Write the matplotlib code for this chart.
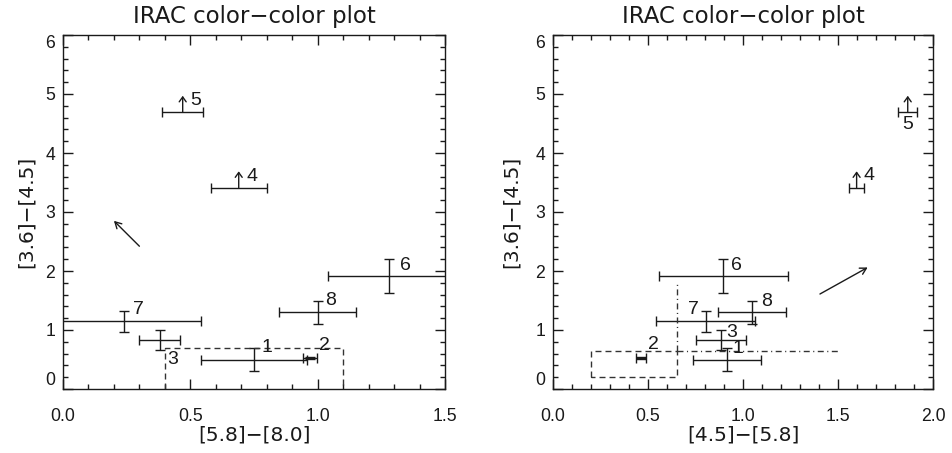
import matplotlib
matplotlib.use("Agg")
import matplotlib.pyplot as plt
from matplotlib.ticker import MultipleLocator, FormatStrFormatter

plt.rcParams["font.family"] = ["Liberation Sans", "DejaVu Sans"]
WIDE = ["DejaVu Sans"]

# IRAC colours of the eight sources
source_ids = ["1", "2", "3", "4", "5", "6", "7", "8"]
c36_45 = [0.50, 0.53, 0.83, 3.41, 4.69, 1.91, 1.15, 1.30]
c36_45_err = [0.19, 0.02, 0.17, 0.0, 0.0, 0.285, 0.18, 0.19]
c58_80 = [0.75, 0.97, 0.38, 0.69, 0.47, 1.28, 0.24, 1.00]
c58_80_err = [0.21, 0.027, 0.08, 0.11, 0.08, 0.24, 0.30, 0.15]
c45_58 = [0.916, 0.463, 0.884, 1.598, 1.867, 0.896, 0.804, 1.046]
c45_58_err = [0.18, 0.025, 0.13, 0.04, 0.05, 0.34, 0.26, 0.18]
lower_limit = [False, False, False, True, True, False, False, False]

# extinction vectors (tail, head)
av_vector_left = ((0.30, 2.42), (0.20, 2.85))
av_vector_right = ((1.405, 1.61), (1.656, 2.06))

# class II regions
box_left = (0.4, 1.1, 0.0, 0.7)
box_right = (0.2, 0.65, 0.2, 0.65)
right_vline_top = 1.8
right_hline_end = 1.5

x_ticks_left = [0.0, 0.5, 1.0, 1.5]
x_ticks_right = [0.0, 0.5, 1.0, 1.5, 2.0]
y_ticks = [0, 1, 2, 3, 4, 5, 6]

# label offsets in pixels (dx right, dy up)
label_px_left = [(13, 12), (14, 12), (13, -19), (13, 11), (13, 12), (16, 11), (14, 12), (13, 12)]
label_px_right = [(11, 11), (12, 13), (11, 8), (12, 12), (0, -12), (13, 11), (-12, 12), (15, 11)]

INK = "#1a1a1a"
FS = 12.7
PX = 0.72  # points per pixel at 100 dpi

fig = plt.figure(figsize=(9.52, 4.53), dpi=100)
ax_l = fig.add_axes([63 / 952, 64 / 453, 382 / 952, 354 / 453])
ax_r = fig.add_axes([553 / 952, 64 / 453, 380 / 952, 354 / 453])


def draw_panel(ax, xs, xerr, offsets, xlim, xticks, xlabel, av):
    for i in range(len(source_ids)):
        yerr = None if lower_limit[i] else c36_45_err[i]
        ax.errorbar(xs[i], c36_45[i], xerr=xerr[i], yerr=yerr, fmt="none",
                    ecolor=INK, elinewidth=1.0, capsize=3.3, capthick=1.0,
                    clip_on=True)
        if lower_limit[i]:
            ax.annotate("", xy=(xs[i], c36_45[i] + 0.28), xytext=(xs[i], c36_45[i]),
                        arrowprops=dict(arrowstyle="->,head_length=0.35,head_width=0.25",
                                        lw=1.0, color=INK, shrinkA=0, shrinkB=0,
                                        mutation_scale=10))
        dx, dy = offsets[i]
        ax.annotate(source_ids[i], xy=(xs[i], c36_45[i]), xytext=(dx * PX, dy * PX),
                    textcoords="offset points", ha="center", va="center",
                    fontsize=14, color=INK)
    (tx, ty), (hx, hy) = av
    ax.annotate("", xy=(hx, hy), xytext=(tx, ty),
                arrowprops=dict(arrowstyle="->,head_length=0.45,head_width=0.25",
                                lw=1.0, color=INK, shrinkA=0, shrinkB=0,
                                mutation_scale=10))

    ax.set_xlim(*xlim)
    ax.set_ylim(0, 6)
    ax.set_xticks(xticks)
    ax.set_yticks(y_ticks)
    ax.xaxis.set_major_formatter(FormatStrFormatter("%.1f"))
    ax.xaxis.set_minor_locator(MultipleLocator(0.1))
    ax.yaxis.set_minor_locator(MultipleLocator(0.2))
    ax.tick_params(which="both", direction="in", top=True, right=True,
                   width=1.0, color=INK, labelsize=FS, labelcolor=INK)
    ax.tick_params(axis="x", which="major", length=7.2, pad=13.5)
    ax.tick_params(axis="y", which="major", length=7.2, pad=5.5)
    ax.tick_params(which="minor", length=3.6)
    for s in ax.spines.values():
        s.set_linewidth(1.0)
        s.set_color(INK)
    ax.set_title("IRAC color\u2212color plot", fontsize=16.5, pad=9, color=INK,
                 family=WIDE)
    ax.set_xlabel(xlabel, fontsize=14.5, color=INK, va="top", family=WIDE)
    ax.set_ylabel("[3.6]\u2212[4.5]", fontsize=14.5, color=INK, va="center",
                  family=WIDE)
    ax.xaxis.set_label_coords(0.5, -0.103)
    fig.canvas.draw()
    ylabels = ax.get_yticklabels()
    ylabels[0].set_verticalalignment("bottom")
    ylabels[-1].set_verticalalignment("top")


draw_panel(ax_l, c58_80, c58_80_err, label_px_left, (0.0, 1.5), x_ticks_left,
           "[5.8]\u2212[8.0]", av_vector_left)
draw_panel(ax_r, c45_58, c45_58_err, label_px_right, (0.0, 2.0), x_ticks_right,
           "[4.5]\u2212[5.8]", av_vector_right)
ax_l.yaxis.set_label_coords(-0.096, 0.5)
ax_r.yaxis.set_label_coords(-0.11, 0.5)

dash = (0, (4.3, 2.9))
dashdot = (0, (4.3, 2.5, 0.8, 2.5))

x0, x1, y0, y1 = box_left
ax_l.plot([x0, x0, x1, x1], [y0, y1, y1, y0], ls=dash, lw=1.0, color="#333333",
          clip_on=False)

x0, x1, y0, y1 = box_right
ax_r.plot([x0, x0, x1, x1, x0], [y0, y1, y1, y0, y0], ls=dash, lw=1.0, color="#333333")
ax_r.plot([x1, x1], [y1, right_vline_top], ls=dashdot, lw=1.0, color="#333333")
ax_r.plot([x1, right_hline_end], [y1, y1], ls=dashdot, lw=1.0, color="#333333")

fig.savefig("out.png", dpi=100)
